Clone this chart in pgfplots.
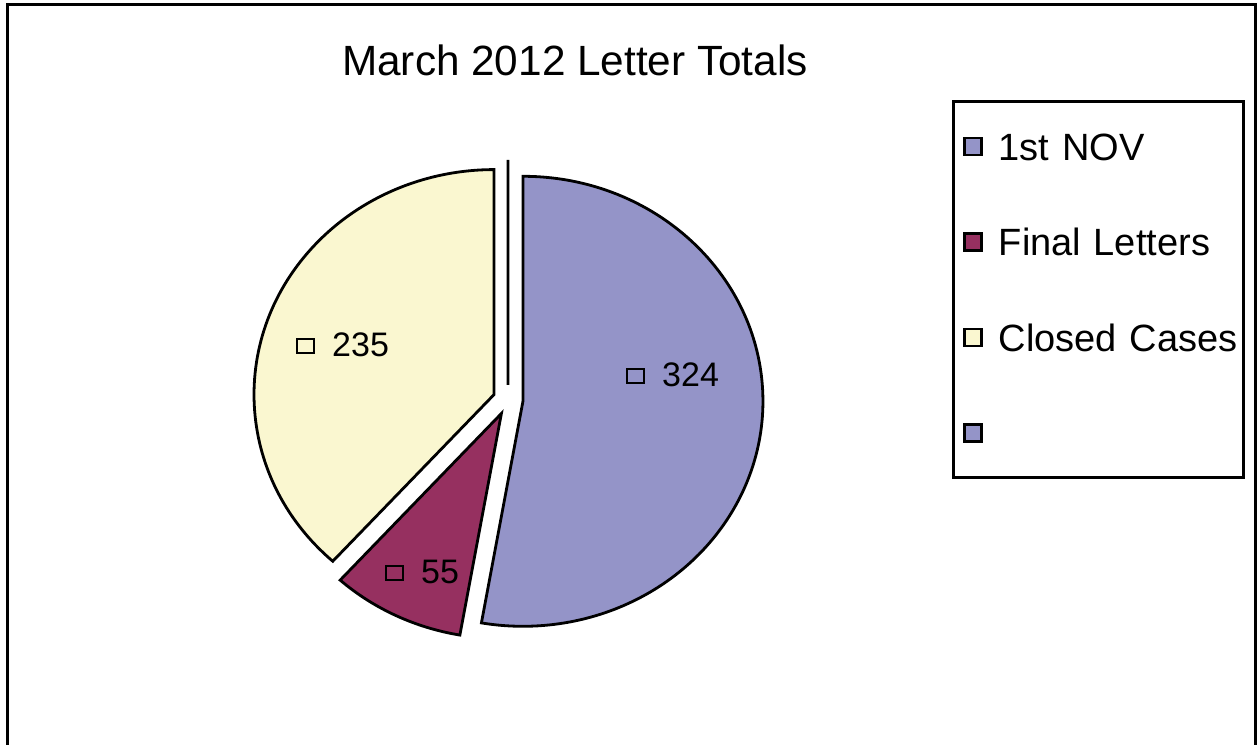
\documentclass[border=0pt]{standalone}
\usepackage{pgfplots}
\usepackage{pgfplotstable}
\pgfplotsset{compat=1.18}
\usepackage{fontspec}
\setmainfont{Liberation Sans}

\definecolor{novblue}{RGB}{148,148,200}
\definecolor{finalplum}{RGB}{150,48,96}
\definecolor{closedivory}{RGB}{250,247,208}

% letters sent in March 2012
\pgfplotstableread[col sep=comma]{
label,value
1st NOV,324
Final Letters,55
Closed Cases,235
blank,0
}\lettertable

% exploded pie slice: start angle, end angle, colour
\newcommand\pieslice[3]{%
  \filldraw[fill=#3, draw=black, line width=2.8pt]
    ([shift={({(#1+#2)/2}:15pt)}]axis cs:508,344)
    -- ++(#1:240pt and 225pt)
    arc[start angle=#1, end angle=#2, x radius=240pt, y radius=225pt]
    -- cycle;
}
% data label: key square and value, base line of the number at (x,y)
\newcommand\datalabel[3]{%
  \draw[line width=2.8pt] ([xshift=-35pt,yshift=4pt]axis cs:#1,#2) rectangle ++(17pt,14pt);
  \node[anchor=base west, inner sep=0pt, font=\fontsize{34}{40}\selectfont] at (axis cs:#1,#2) {#3};
}

\begin{document}
\begin{tikzpicture}
\pgfplotstablegetelem{0}{value}\of\lettertable \edef\vA{\pgfplotsretval}
\pgfplotstablegetelem{1}{value}\of\lettertable \edef\vB{\pgfplotsretval}
\pgfplotstablegetelem{2}{value}\of\lettertable \edef\vC{\pgfplotsretval}
\pgfplotstablegetelem{3}{value}\of\lettertable \edef\vD{\pgfplotsretval}
\pgfmathsetmacro\total{\vA+\vB+\vC+\vD}
\pgfmathsetmacro\aA{90}
\pgfmathsetmacro\aB{\aA-360*(\vA/\total)}
\pgfmathsetmacro\aC{\aB-360*(\vB/\total)}
\pgfmathsetmacro\aD{\aC-360*(\vC/\total)}
\begin{axis}[
    width=1257pt, height=744pt, scale only axis,
    xmin=0, xmax=1257, ymin=0, ymax=744,
    hide axis,
    title={March 2012 Letter Totals},
    title style={at={(0.45744,0.8911)}, anchor=base, font=\fontsize{42.3}{48}\selectfont},
    legend cell align=left,
    legend image code/.code={\filldraw[line width=2.8pt] (0pt,-8.5pt) rectangle (17pt,8.5pt);},
    legend style={at={(0.7570,0.86492)}, anchor=north west,
        draw=black, line width=3pt,
        inner xsep=10pt, inner ysep=27pt,
        column sep=16pt, row sep=60.5pt,
        font=\fontsize{38}{44}\selectfont,
        nodes={text width=235pt, text height=31pt, text depth=4pt, inner sep=0pt, align=left}},
]
\addlegendimage{fill=novblue, draw=black}
\addlegendentry{\mbox{1st NOV}}
\addlegendimage{fill=finalplum, draw=black}
\addlegendentry{\mbox{Final Letters}}
\addlegendimage{fill=closedivory, draw=black}
\addlegendentry{\mbox{Closed Cases}}
\addlegendimage{fill=novblue, draw=black}
\addlegendentry{\mbox{}}

% chart frame
\draw[line width=3pt] (axis cs:7.5,-10) -- (axis cs:7.5,739.3) -- (axis cs:1255.3,739.3) -- (axis cs:1255.3,-10);

\pieslice{\aA}{\aB}{novblue}
\pieslice{\aB}{\aC}{finalplum}
\pieslice{\aC}{\aD}{closedivory}
% zero-valued slice
\draw[line width=2.8pt] ([shift={(\aD:15pt)}]axis cs:508,344) -- ++(\aD:240pt and 225pt);

\datalabel{662}{357}{\vA}
\datalabel{421}{160}{\vB}
\datalabel{332}{387}{\vC}
\end{axis}
\pgfresetboundingbox
\path (current axis.south west) rectangle (current axis.north east);
\end{tikzpicture}
\end{document}
